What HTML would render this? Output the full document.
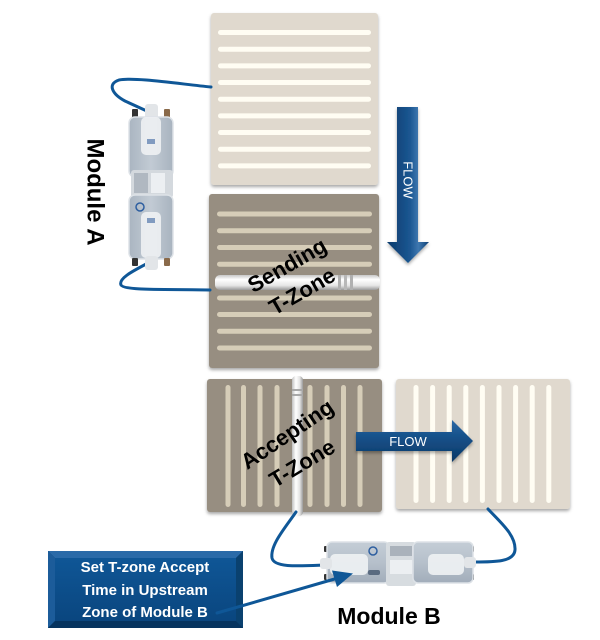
<!DOCTYPE html>
<html><head><meta charset="utf-8"><style>
html,body{margin:0;padding:0;background:#fff;}
svg{display:block;}
</style></head><body>
<svg width="600" height="640" viewBox="0 0 600 640" xmlns="http://www.w3.org/2000/svg" font-family="Liberation Sans, sans-serif">
<defs>
<filter id="sh" x="-10%" y="-10%" width="120%" height="125%">
<feDropShadow dx="0" dy="2" stdDeviation="1.5" flood-color="#000" flood-opacity="0.35"/>
</filter>
<linearGradient id="pipeH" x1="0" y1="0" x2="0" y2="1">
<stop offset="0" stop-color="#c8c8c8"/><stop offset="0.3" stop-color="#ffffff"/><stop offset="0.7" stop-color="#e6e6e6"/><stop offset="1" stop-color="#9a9a9a"/>
</linearGradient>
<linearGradient id="pipeV" x1="0" y1="0" x2="1" y2="0">
<stop offset="0" stop-color="#c0c0c0"/><stop offset="0.35" stop-color="#ffffff"/><stop offset="0.7" stop-color="#e4e4e4"/><stop offset="1" stop-color="#9a9a9a"/>
</linearGradient>
<linearGradient id="arrV" x1="0" y1="0" x2="1" y2="0">
<stop offset="0" stop-color="#0b3a6c"/><stop offset="0.55" stop-color="#1b5792"/><stop offset="0.75" stop-color="#3f78b0"/><stop offset="1" stop-color="#0d3f73"/>
</linearGradient>
<linearGradient id="arrH" x1="0" y1="0" x2="0" y2="1">
<stop offset="0" stop-color="#2f6aa6"/><stop offset="0.3" stop-color="#1a5690"/><stop offset="1" stop-color="#0a3766"/>
</linearGradient>
<linearGradient id="box" x1="0" y1="0" x2="0" y2="1">
<stop offset="0" stop-color="#0f5696"/><stop offset="1" stop-color="#0a467f"/>
</linearGradient>
<linearGradient id="mod" x1="0" y1="0" x2="1" y2="0">
<stop offset="0" stop-color="#aab5c1"/><stop offset="0.5" stop-color="#c2cbd4"/><stop offset="1" stop-color="#a8b3bf"/>
</linearGradient>
<linearGradient id="modH" x1="0" y1="0" x2="0" y2="1">
<stop offset="0" stop-color="#c4cdd6"/><stop offset="0.5" stop-color="#b6c0cb"/><stop offset="1" stop-color="#a2adba"/>
</linearGradient>
</defs>

<!-- Top panel -->
<rect x="211" y="13" width="167" height="172" rx="3" fill="#e0d9ce" filter="url(#sh)"/>
<g fill="#fffdf3">
<rect x="218" y="30" width="153" height="5" rx="2.5"/>
<rect x="218" y="46.7" width="153" height="5" rx="2.5"/>
<rect x="218" y="63.4" width="153" height="5" rx="2.5"/>
<rect x="218" y="80" width="153" height="5" rx="2.5"/>
<rect x="218" y="96.7" width="153" height="5" rx="2.5"/>
<rect x="218" y="113.4" width="153" height="5" rx="2.5"/>
<rect x="218" y="130" width="153" height="5" rx="2.5"/>
<rect x="218" y="146.7" width="153" height="5" rx="2.5"/>
<rect x="218" y="163.4" width="153" height="5" rx="2.5"/>
</g>

<!-- Sending panel -->
<rect x="209" y="194" width="170" height="174" rx="3" fill="#978e81" filter="url(#sh)"/>
<g fill="#d6cdb8">
<rect x="217" y="211.5" width="155" height="5" rx="2.5"/>
<rect x="217" y="228.2" width="155" height="5" rx="2.5"/>
<rect x="217" y="245" width="155" height="5" rx="2.5"/>
<rect x="217" y="261.7" width="155" height="5" rx="2.5"/>
<rect x="217" y="295.5" width="155" height="5" rx="2.5"/>
<rect x="217" y="312" width="155" height="5" rx="2.5"/>
<rect x="217" y="328.7" width="155" height="5" rx="2.5"/>
<rect x="217" y="345.5" width="155" height="5" rx="2.5"/>
</g>
<rect x="215" y="275" width="165" height="15" rx="5" fill="url(#pipeH)"/>
<rect x="338" y="275" width="3" height="15" fill="#b0b0b0"/>
<rect x="344" y="275" width="3" height="15" fill="#b8b8b8"/>
<rect x="350" y="275" width="3" height="15" fill="#b0b0b0"/>
<g font-weight="bold" font-size="22" fill="#000" text-anchor="middle">
<text transform="translate(287,265) rotate(-30)" dy="0.35em">Sending</text>
<text transform="translate(302,291) rotate(-30)" dy="0.35em">T-Zone</text>
</g>

<!-- Accepting panel -->
<rect x="207" y="379" width="175" height="133" rx="3" fill="#978e81" filter="url(#sh)"/>
<g fill="#d6cdb8">
<rect x="225.5" y="385" width="5" height="122" rx="2.5"/>
<rect x="241" y="385" width="5" height="122" rx="2.5"/>
<rect x="257.5" y="385" width="5" height="122" rx="2.5"/>
<rect x="274.5" y="385" width="5" height="122" rx="2.5"/>
<rect x="307.5" y="385" width="5" height="122" rx="2.5"/>
<rect x="324.5" y="385" width="5" height="122" rx="2.5"/>
<rect x="341" y="385" width="5" height="122" rx="2.5"/>
<rect x="357.5" y="385" width="5" height="122" rx="2.5"/>
</g>
<rect x="292" y="376" width="11" height="140" rx="4" fill="url(#pipeV)"/>
<rect x="292" y="389" width="11" height="2" fill="#a8a8a8"/>
<rect x="292" y="394" width="11" height="2" fill="#a8a8a8"/>
<g font-weight="bold" font-size="22" fill="#000" text-anchor="middle">
<text transform="translate(287,434) rotate(-34)" dy="0.35em">Accepting</text>
<text transform="translate(302,463) rotate(-31)" dy="0.35em">T-Zone</text>
</g>

<!-- Right panel -->
<rect x="396" y="379" width="174" height="130" rx="3" fill="#e0d9ce" filter="url(#sh)"/>
<g fill="#fffdf3">
<rect x="413.5" y="385" width="5" height="118" rx="2.5"/>
<rect x="430.1" y="385" width="5" height="118" rx="2.5"/>
<rect x="446.7" y="385" width="5" height="118" rx="2.5"/>
<rect x="463.3" y="385" width="5" height="118" rx="2.5"/>
<rect x="479.9" y="385" width="5" height="118" rx="2.5"/>
<rect x="496.5" y="385" width="5" height="118" rx="2.5"/>
<rect x="513.1" y="385" width="5" height="118" rx="2.5"/>
<rect x="529.7" y="385" width="5" height="118" rx="2.5"/>
<rect x="546.3" y="385" width="5" height="118" rx="2.5"/>
</g>

<!-- Vertical FLOW arrow -->
<polygon points="397,107 418,107 418,242 429,242 408,263 387,242 397,242" fill="url(#arrV)" filter="url(#sh)"/>
<text transform="translate(408,180) rotate(90)" text-anchor="middle" dy="0.35em" font-size="13" fill="#fff">FLOW</text>

<!-- Horizontal FLOW arrow -->
<polygon points="356,432 452,432 452,420 473,441 452,462 452,451 356,451" fill="url(#arrH)" filter="url(#sh)"/>
<text x="408" y="446" text-anchor="middle" font-size="13" fill="#fff">FLOW</text>

<!-- Cables -->
<g fill="none" stroke="#0f5797" stroke-width="3" stroke-linecap="round">
<path d="M211,87 C180,84 135,77 119,80 C107,84 112,94 125,101 L149,112"/>
<path d="M150,262 C135,270 118,278 121,285 C124,291 170,289 210,290"/>
<path d="M296,512 C285,528 270,545 272,558 C274,568 300,566 325,565"/>
<path d="M488,509 C500,522 516,535 515,550 C514,562 495,562 474,562"/>
</g>

<!-- Module A -->
<g>
<rect x="132" y="109" width="6" height="9" rx="1" fill="#333"/>
<rect x="164" y="109" width="6" height="9" rx="1" fill="#8a6a4a"/>
<rect x="145" y="104" width="13" height="16" rx="3" fill="#e2e5e8"/>
<rect x="129" y="117" width="44" height="60" rx="6" fill="url(#mod)" stroke="#dde2e7" stroke-width="1.5"/>
<rect x="141" y="117" width="20" height="38" rx="5" fill="#eef1f3" opacity="0.9"/>
<rect x="147" y="139" width="8" height="5" fill="#3a64a0" opacity="0.6"/>
<rect x="131" y="170" width="42" height="28" rx="3" fill="#d4d9de"/>
<rect x="134" y="173" width="14" height="20" fill="#b0b8c1"/>
<rect x="151" y="173" width="14" height="20" fill="#eceff2"/>
<rect x="129" y="195" width="44" height="64" rx="6" fill="url(#mod)" stroke="#dde2e7" stroke-width="1.5"/>
<circle cx="140" cy="207" r="4" fill="none" stroke="#2e5fa0" stroke-width="1.5"/>
<rect x="141" y="212" width="20" height="46" rx="5" fill="#eef1f3" opacity="0.9"/>
<rect x="147" y="218" width="8" height="5" fill="#3a64a0" opacity="0.6"/>
<rect x="145" y="256" width="13" height="14" rx="3" fill="#e2e5e8"/>
<rect x="132" y="258" width="6" height="8" rx="1" fill="#333"/>
<rect x="164" y="258" width="6" height="8" rx="1" fill="#8a6a4a"/>
</g>
<text transform="translate(96,192) rotate(90)" text-anchor="middle" dy="0.35em" font-size="24" font-weight="bold" fill="#000">Module A</text>

<!-- Module B -->
<g>
<rect x="324" y="546" width="8" height="6" rx="1" fill="#333"/>
<rect x="324" y="574" width="8" height="6" rx="1" fill="#333"/>
<rect x="466" y="546" width="8" height="6" rx="1" fill="#333"/>
<rect x="466" y="574" width="8" height="6" rx="1" fill="#333"/>
<rect x="327" y="542" width="62" height="41" rx="5" fill="url(#modH)" stroke="#dde2e7" stroke-width="1.5"/>
<rect x="386" y="542" width="30" height="44" rx="3" fill="#d7dce0"/>
<rect x="390" y="546" width="22" height="10" fill="#aab2bb"/>
<rect x="390" y="560" width="22" height="14" fill="#eceff2"/>
<rect x="413" y="542" width="60" height="41" rx="5" fill="url(#modH)" stroke="#dde2e7" stroke-width="1.5"/>
<rect x="330" y="554" width="38" height="21" rx="5" fill="#eef1f3" opacity="0.92"/>
<rect x="428" y="554" width="36" height="21" rx="5" fill="#eef1f3" opacity="0.92"/>
<circle cx="373" cy="551" r="4" fill="none" stroke="#2e5fa0" stroke-width="1.5"/>
<rect x="368" y="570" width="12" height="5" rx="2" fill="#5a6b80"/>
<rect x="320" y="558" width="12" height="11" rx="3" fill="#e2e5e8"/>
<rect x="464" y="557" width="12" height="11" rx="3" fill="#e2e5e8"/>
</g>
<text x="389" y="624" text-anchor="middle" font-size="23" font-weight="bold" fill="#000">Module B</text>

<!-- Callout box -->
<rect x="48" y="551" width="195" height="77" fill="#073d70"/>
<polygon points="48,551 243,551 236,558 55,558" fill="#2a6aa8"/>
<polygon points="48,551 55,558 55,621 48,628" fill="#1c5c9a"/>
<polygon points="48,628 55,621 236,621 243,628" fill="#06345f"/>
<polygon points="243,551 243,628 236,621 236,558" fill="#0a416f"/>
<rect x="55" y="558" width="181" height="63" fill="url(#box)"/>
<g font-size="15" font-weight="bold" fill="#fff" text-anchor="middle">
<text x="145" y="572">Set T-zone Accept</text>
<text x="145" y="595">Time in Upstream</text>
<text x="145" y="617">Zone of Module B</text>
</g>

<!-- Callout arrow -->
<line x1="217" y1="613" x2="338" y2="578" stroke="#0f5797" stroke-width="3" stroke-linecap="round"/>
<polygon points="353,573.5 337,587 332,570.5" fill="#0f5797"/>
</svg>
</body></html>
